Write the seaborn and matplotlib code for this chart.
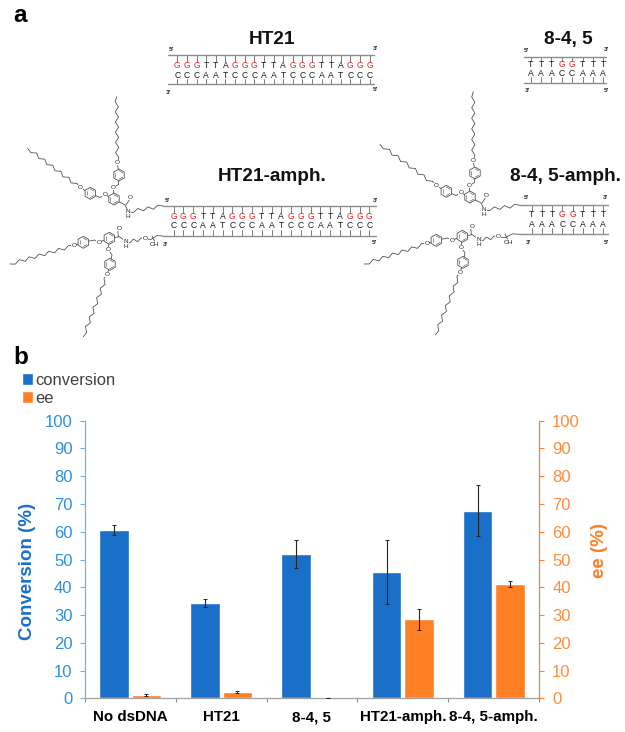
"""
Panel a: duplex and lipid schematics. Panel b: conversion and ee bar chart.
"""

import numpy as np
import pandas as pd
import seaborn as sns
import matplotlib.pyplot as plt

# -------- Chart data -------- #

categories = ["No dsDNA", "HT21", "8-4, 5", "HT21-amph.", "8-4, 5-amph."]
conversion = [60.6, 34.3, 52.0, 45.5, 67.6]
conversion_err = [1.7, 1.5, 5.0, 11.7, 9.2]
ee = [1.2, 2.4, 0.1, 28.5, 41.2]
ee_err = [0.2, 0.4, 0.1, 3.8, 1.2]
yticks = list(range(0, 101, 10))

ht21_top = "GGGTTAGGGTTAGGGTTAGGG"
ht21_bottom = "CCCAATCCCAATCCCAATCCC"
short_top = "TTTGGTTT"
short_bottom = "AAACCAAA"

BLUE = "#1A70C8"
ORANGE = "#FF7F24"
LIGHT_BLUE = "#2F8FDC"
LINE = "#444444"
W, H = 625, 732

sns.set_style("white")
plt.rcParams["font.family"] = ["Liberation Sans", "DejaVu Sans"]

fig = plt.figure(figsize=(W / 100, H / 100), dpi=100)

# overlay in pixel coordinates for the schematic part
sk = fig.add_axes([0, 0, 1, 1])
sk.set_xlim(0, W)
sk.set_ylim(H, 0)
sk.axis("off")


# -------- Schematic helpers -------- #

def zigzag(start, end, n, amp=1.6):
    start, end = np.array(start, float), np.array(end, float)
    d = end - start
    normal = np.array([-d[1], d[0]]) / np.hypot(*d)
    pts = [start + d * i / n + normal * amp * (1 if i % 2 else -1) for i in range(1, n)]
    pts = np.vstack([start, pts, end])
    sk.plot(pts[:, 0], pts[:, 1], color=LINE, lw=0.55, zorder=2)


def bond(*pts):
    xy = np.array(pts)
    sk.plot(xy[:, 0], xy[:, 1], color=LINE, lw=0.55, zorder=2)


def ring(cx, cy, r=6.0):
    ang = np.deg2rad(np.arange(30, 391, 60))
    x, y = cx + r * np.cos(ang), cy + r * np.sin(ang)
    sk.fill(x, y, facecolor="white", edgecolor=LINE, lw=0.55, zorder=3)
    for i in (0, 2, 4):
        sk.plot([cx + (x[i] - cx) * 0.72, cx + (x[i + 1] - cx) * 0.72],
                [cy + (y[i] - cy) * 0.72, cy + (y[i + 1] - cy) * 0.72],
                color=LINE, lw=0.4, zorder=4)


def atom(x, y, label):
    sk.text(x, y, label, fontsize=4.6, color="#222222", ha="center", va="center", zorder=5,
            bbox=dict(facecolor="white", edgecolor="none", pad=0.2))


def upper_lipid(dx, dy, strand_start, end_a, end_b):
    n = (128.3 + dx, 211.7 + dy)
    c = (125 + dx, 205 + dy)
    o = (130 + dx, 197.5 + dy)
    r1 = (114 + dx, 199 + dy)
    o1 = (113.3 + dx, 187.7 + dy)
    ch1 = (118.5 + dx, 184.5 + dy)
    r2 = (119 + dx, 175 + dy)
    o2 = (117.3 + dx, 162.7 + dy)
    o3 = (104.7 + dx, 194.7 + dy)
    ch3 = (100 + dx, 197.5 + dy)
    r3 = (90.3 + dx, 193.3 + dy)
    o4 = (80 + dx, 187.7 + dy)
    bond(n, c, r1, o1, ch1, r2, o2)
    bond(r1, o3, ch3, r3, o4)
    bond((c[0] + 1, c[1]), (o[0] + 1, o[1]))
    zigzag(n, strand_start, 7)
    zigzag(o2, end_a, 13)
    zigzag(o4, end_b, 13)
    for r in (r1, r2, r3):
        ring(*r)
    for p in (o, o1, o2, o3, o4):
        atom(p[0], p[1], "O")
    atom(n[0], n[1], "N")
    atom(n[0], n[1] + 4.5, "H")


def lower_lipid(dx, dy, strand_start, end_a, end_b):
    n = (126 + dx, 241.7 + dy)
    c = (119.3 + dx, 236.7 + dy)
    o = (118.7 + dx, 228.3 + dy)
    r1 = (109.3 + dx, 238.3 + dy)
    o1 = (108.3 + dx, 249.3 + dy)
    ch1 = (112 + dx, 255 + dy)
    r2 = (110 + dx, 264.3 + dy)
    o2 = (107.3 + dx, 274.3 + dy)
    o3 = (98.7 + dx, 242.3 + dy)
    ch3 = (94.5 + dx, 240 + dy)
    r3 = (83.3 + dx, 242.3 + dy)
    o4 = (73.7 + dx, 245.7 + dy)
    eth = (145 + dx, 239 + dy)
    oh_c = (152 + dx, 236 + dy)
    bond(n, c, r1, o1, ch1, r2, o2)
    bond(r1, o3, ch3, r3, o4)
    bond((c[0] - 1, c[1]), (o[0] - 1, o[1]))
    zigzag(n, eth, 5)
    zigzag(eth, strand_start, 3, amp=1.4)
    bond(oh_c, (oh_c[0] + 2.5, oh_c[1] + 5))
    zigzag(o2, end_a, 13)
    zigzag(o4, end_b, 13)
    for r in (r1, r2, r3):
        ring(*r)
    for p in (o, o1, o2, o3, o4, eth):
        atom(p[0], p[1], "O")
    atom(n[0], n[1], "N")
    atom(n[0], n[1] + 4.5, "H")
    atom(155 + dx, 245 + dy, "OH")


def duplex(x0, x1, y_top, y_bot, first, last, row_top, row_bot, top, bottom):
    for y in (y_top, y_bot):
        sk.plot([x0, x1], [y, y], color="#8c8c8c", lw=1.0, zorder=2)
    for x, t, b in zip(np.linspace(first, last, len(top)), top, bottom):
        sk.plot([x, x], [y_top, row_top - 3.5], color="#666666", lw=0.6, zorder=1)
        sk.plot([x, x], [row_bot + 3.5, y_bot], color="#666666", lw=0.6, zorder=1)
        color = "#ee2222" if t == "G" else "#1a1a1a"
        sk.text(x, row_top, t, color=color, fontsize=6.2, ha="center", va="center", zorder=5)
        sk.text(x, row_bot, b, color="#1a1a1a", fontsize=6.2, ha="center", va="center", zorder=5)


def end_labels(coords):
    for (x, y), label in zip(coords, ["5'", "3'", "3'", "5'"]):
        sk.text(x, y, label, fontsize=4.6, fontweight="bold", color="#222222", ha="center", va="center")


def title(x, y, label):
    sk.text(x, y, label, fontsize=13.7, fontweight="bold", color="#111111", ha="center", va="center")


# -------- Panel a -------- #

sk.text(20, 16, "a", fontsize=17.5, fontweight="bold", ha="center", va="center", color="black")
sk.text(21, 358, "b", fontsize=17.5, fontweight="bold", ha="center", va="center", color="black")

title(272, 39, "HT21")
duplex(168, 374, 54.7, 84, 177.3, 369.7, 65.7, 75, ht21_top, ht21_bottom)
end_labels([(171, 49.5), (375, 49), (168, 92), (375, 89.5)])

title(568, 39.3, "8-4, 5")
duplex(524, 606, 56.7, 83.3, 530.7, 603.3, 64.3, 73.7, short_top, short_bottom)
end_labels([(526, 50), (606, 49.5), (527, 90.7), (606, 90.7)])

title(271.7, 176.7, "HT21-amph.")
duplex(163, 375.6, 206, 236, 173.7, 369.3, 216.7, 226, ht21_top, ht21_bottom)
end_labels([(167.7, 201), (375, 201), (165, 244), (374, 242)])
upper_lipid(0, 0, (163, 206), (116.7, 96.7), (27.7, 148.3))
lower_lipid(0, 0, (163, 236), (83.3, 336.7), (10, 264))

title(565, 176.7, "8-4, 5-amph.")
duplex(520, 608, 205.3, 234.3, 531.7, 603.3, 214.3, 224.3, short_top, short_bottom)
end_labels([(526.7, 197.7), (605, 197.7), (528, 242.3), (606, 242.3)])
upper_lipid(356, -2, (520, 205.3), (473.3, 91.7), (380, 144.3))
lower_lipid(353, -2, (520, 234.3), (435.3, 335), (364, 264))

# -------- Panel b -------- #

left, right, top_px, bottom_px = 84.7, 539.3, 420.7, 698.3
ax = fig.add_axes([left / W, 1 - bottom_px / H, (right - left) / W, (bottom_px - top_px) / H])
ax.patch.set_alpha(0)

df = pd.DataFrame({"category": categories, "conversion": conversion, "ee": ee})
long_df = df.melt(id_vars="category", var_name="series", value_name="value")
sns.barplot(data=long_df, x="category", y="value", hue="series", order=categories,
            palette={"conversion": BLUE, "ee": ORANGE}, width=0.708, gap=0.093,
            saturation=1, errorbar=None, ax=ax)

for bars, errs in zip(ax.containers, [conversion_err, ee_err]):
    xs = [b.get_x() + b.get_width() / 2 for b in bars]
    ys = [b.get_height() for b in bars]
    ax.errorbar(xs, ys, yerr=errs, fmt="none", ecolor="#222222", elinewidth=0.8,
                capsize=1.1, capthick=0.7, zorder=5)

ax.set_xlim(-0.5, len(categories) - 0.5)
ax.set_ylim(0, 100)
ax.set_yticks(yticks)
ax.set_xlabel("")
ax.set_ylabel("")
ax.tick_params(axis="y", left=True, length=3.8, width=0.8, color="#69B6EE", labelcolor=LIGHT_BLUE,
               labelsize=12, pad=5)
ax.tick_params(axis="x", which="major", length=0, labelsize=10.9, pad=8.5, labelcolor="black")
for lab in ax.get_xticklabels():
    lab.set_fontweight("bold")
ax.set_xticks(np.arange(len(categories) + 1) - 0.5, minor=True)
ax.tick_params(axis="x", which="minor", bottom=True, length=3.2, width=0.8, color="#8a8a8a")
sns.despine(ax=ax, top=True, right=True)
ax.spines["left"].set_color("#69B6EE")
ax.spines["bottom"].set_color("#a0a0a0")
ax.spines["left"].set_linewidth(0.9)
ax.spines["bottom"].set_linewidth(0.9)

ax2 = ax.twinx()
ax2.set_ylim(0, 100)
ax2.set_yticks(yticks)
ax2.tick_params(axis="y", right=True, length=3.8, width=0.8, color=ORANGE, labelcolor="#FF8C3C",
                labelsize=12, pad=5.5)
for side in ("left", "top", "bottom"):
    ax2.spines[side].set_visible(False)
ax2.spines["right"].set_visible(True)
ax2.spines["right"].set_color(ORANGE)
ax2.spines["right"].set_linewidth(0.9)
ax2.grid(False)
ax.grid(False)

fig.text(27 / W, 1 - 571 / H, "Conversion (%)", rotation=90, fontsize=13.5, fontweight="bold",
         color=BLUE, ha="center", va="center")
fig.text(600 / W, 1 - 550 / H, "ee (%)", rotation=90, fontsize=13.5, fontweight="bold",
         color=ORANGE, ha="center", va="center")

handles, labels = ax.get_legend_handles_labels()
ax.legend(handles, labels, loc="upper left", bbox_to_anchor=(21.5 / W, 1 - 373 / H),
          bbox_transform=fig.transFigure, frameon=False, fontsize=11.9, labelcolor="#404040",
          handlelength=0.7, handleheight=0.7, handletextpad=0.15, labelspacing=0.18,
          borderpad=0, borderaxespad=0)

fig.savefig("out.png", dpi=100)
plt.close(fig)
